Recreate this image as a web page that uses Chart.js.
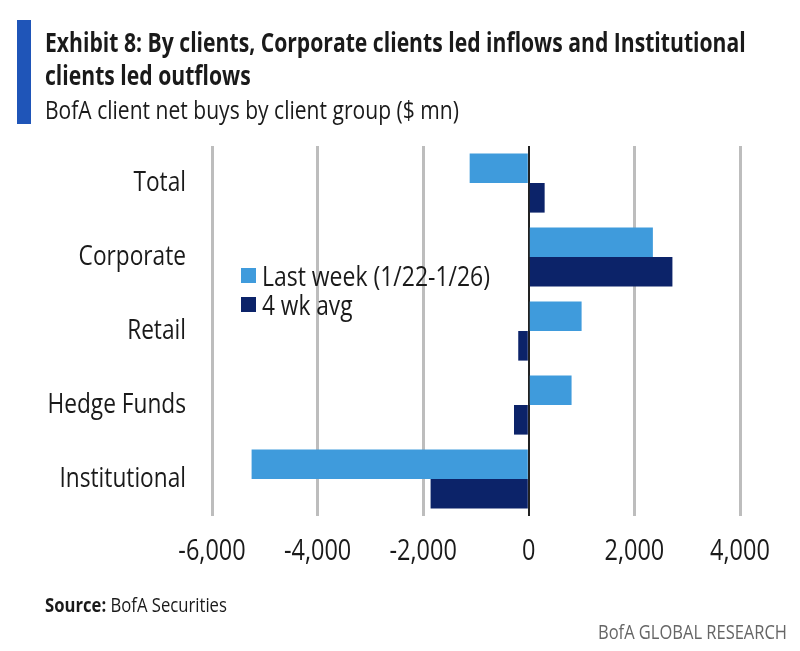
<!DOCTYPE html>
<html>
<head>
    <title>Exhibit 8</title>
    <script src="https://cdn.jsdelivr.net/npm/chart.js"></script>
    <style>
        html, body { margin: 0; padding: 0; background: #fff; }
        body { width: 800px; height: 651px; position: relative; overflow: hidden; font-family: "Open Sans", sans-serif; color: #1a1a1a; }
        canvas { position: absolute; left: 0; top: 0; }
        .txt { position: absolute; white-space: nowrap; transform-origin: left top; line-height: 1; }
        .swatch { position: absolute; width: 15px; height: 15px; }
        #bar { position: absolute; left: 17px; top: 20px; width: 14px; height: 104px; background: #1f55b8; }
    </style>
</head>
<body>
    <canvas id="chart" width="800" height="651"></canvas>
    <div id="bar"></div>
    <div class="txt" style="left:45px;top:29px;font-size:26.5px;font-weight:700;transform:scaleX(.798)">Exhibit 8: By clients, Corporate clients led inflows and Institutional</div>
    <div class="txt" style="left:45px;top:62px;font-size:26.5px;font-weight:700;transform:scaleX(.798)">clients led outflows</div>
    <div class="txt" style="left:45px;top:96px;font-size:26px;transform:scaleX(.81)">BofA client net buys by client group ($ mn)</div>

    <div class="swatch" style="left:241px;top:268px;background:#3f9bdc"></div>
    <div class="txt" style="left:262px;top:261px;font-size:28px;transform:scaleX(.82)">Last week (1/22-1/26)</div>
    <div class="swatch" style="left:241px;top:297px;background:#0c2369"></div>
    <div class="txt" style="left:262px;top:290px;font-size:28px;transform:scaleX(.81)">4 wk avg</div>

    <div class="txt" style="left:45px;top:595px;font-size:20px;transform:scaleX(.833)"><b>Source:</b> BofA Securities</div>
    <div class="txt" style="left:598px;top:622px;font-size:20px;color:#666;transform:scaleX(.825)">BofA GLOBAL RESEARCH</div>

    <script>
        const categories = ['Total', 'Corporate', 'Retail', 'Hedge Funds', 'Institutional'];
        const lastWeek = [-1120, 2350, 1000, 810, -5250];
        const fourWeekAvg = [300, 2720, -200, -280, -1860];
        const xTicks = [-6000, -4000, -2000, 0, 2000, 4000];

        const canvas = document.getElementById('chart');
        const ctx = canvas.getContext('2d');

        // The original uses a condensed face, so squeeze the axis labels sideways
        const plainFillText = ctx.fillText.bind(ctx);
        ctx.fillText = (text, x, y) => {
            ctx.save();
            ctx.translate(x, y);
            ctx.scale(0.81, 1);
            plainFillText(text, 0, 0);
            ctx.restore();
        };

        new Chart(canvas, {
            type: 'bar',
            data: {
                labels: categories,
                datasets: [
                    { label: 'Last week (1/22-1/26)', data: lastWeek, backgroundColor: '#3f9bdc', barPercentage: 1, categoryPercentage: 0.8 },
                    { label: '4 wk avg', data: fourWeekAvg, backgroundColor: '#0c2369', barPercentage: 1, categoryPercentage: 0.8 }
                ]
            },
            options: {
                indexAxis: 'y',
                responsive: false,
                animation: false,
                layout: { padding: { left: 0, right: 60, top: 146, bottom: 0 } },
                plugins: { legend: { display: false }, tooltip: { enabled: false } },
                scales: {
                    x: {
                        min: -6000,
                        max: 4000,
                        afterBuildTicks: axis => { axis.ticks = xTicks.map(v => ({ value: v })); },
                        afterFit: axis => { axis.height = 135; },
                        grid: {
                            color: c => c.tick.value === 0 ? '#222222' : '#bdbdbd',
                            lineWidth: c => c.tick.value === 0 ? 2 : 3,
                            drawTicks: false
                        },
                        border: { display: false },
                        ticks: {
                            color: '#1a1a1a',
                            padding: 18,
                            maxRotation: 0,
                            font: { family: '"Open Sans"', size: 29 },
                            callback: v => v.toLocaleString('en-US')
                        }
                    },
                    y: {
                        afterFit: axis => { axis.width = 212; },
                        grid: { display: false },
                        border: { display: false },
                        ticks: {
                            color: '#1a1a1a',
                            padding: 18,
                            font: { family: '"Open Sans"', size: 28 }
                        }
                    }
                }
            }
        });
    </script>
</body>
</html>
